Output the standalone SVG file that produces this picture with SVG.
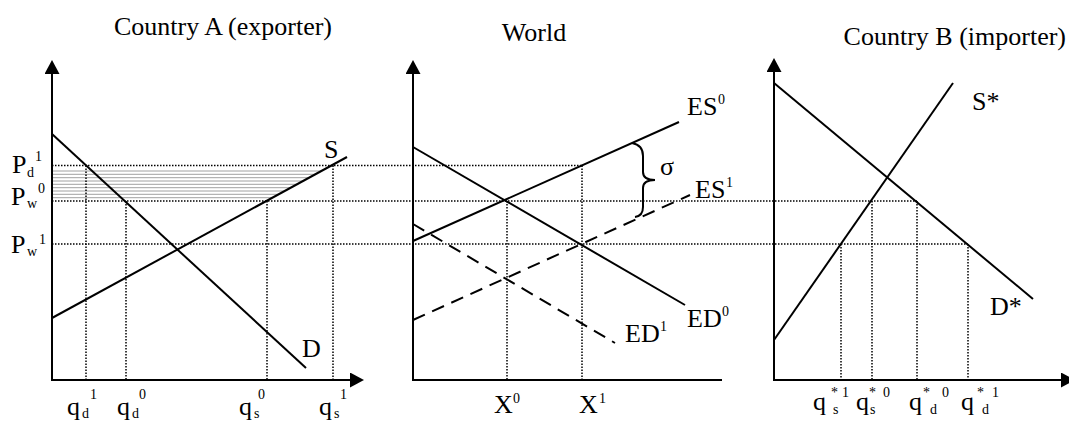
<svg xmlns="http://www.w3.org/2000/svg" width="1069" height="422" viewBox="0 0 1069 422">
<style>
text{font-family:"Liberation Serif","Times New Roman",serif;fill:#000}
.h{font-size:26px}
.t{font-size:26px}
.s{font-size:14px}
.ax{stroke:#000;stroke-width:2;fill:none}
.ln{stroke:#000;stroke-width:2;fill:none}
.da{stroke:#000;stroke-width:2;fill:none;stroke-dasharray:13 8}
.dt{stroke:#000;stroke-width:1.5;fill:none;stroke-dasharray:1.5 1.5}
.hs{stroke:#a0a0a0;stroke-width:1;fill:none}
</style>
<defs>
<marker id="arr" viewBox="0 0 14 15" refX="0" refY="7.5" markerWidth="14" markerHeight="15" orient="auto" markerUnits="userSpaceOnUse"><path d="M0,0 L14,7.5 L0,15 Z" fill="#000"/></marker>
</defs>
<rect width="1069" height="422" fill="#fff"/>

<g id="titles">
<text class="h" x="223" y="35" text-anchor="middle">Country A (exporter)</text>
<text class="h" x="534" y="41" text-anchor="middle">World</text>
<text class="h" x="1066" y="45" text-anchor="end">Country B (importer)</text>
</g>

<g id="guides">
<line class="hs" x1="52" y1="171" x2="321" y2="171"/>
<line class="hs" x1="52" y1="174.3" x2="315" y2="174.3"/>
<line class="hs" x1="52" y1="177.7" x2="309" y2="177.7"/>
<line class="hs" x1="52" y1="181" x2="303" y2="181"/>
<line class="hs" x1="52" y1="184.3" x2="297" y2="184.3"/>
<line class="hs" x1="52" y1="187.7" x2="291" y2="187.7"/>
<line class="hs" x1="52" y1="191" x2="285" y2="191"/>
<line class="hs" x1="52" y1="194.3" x2="279" y2="194.3"/>
<line class="hs" x1="52" y1="197.7" x2="272" y2="197.7"/>
<line class="dt" x1="52" y1="165.5" x2="582" y2="165.5"/>
<line class="dt" x1="52" y1="201" x2="917" y2="201"/>
<line class="dt" x1="52" y1="244" x2="968" y2="244"/>
<line class="dt" x1="86" y1="165.5" x2="86" y2="380"/>
<line class="dt" x1="126" y1="201" x2="126" y2="380"/>
<line class="dt" x1="267" y1="201" x2="267" y2="380"/>
<line class="dt" x1="333" y1="165.5" x2="333" y2="380"/>
<line class="dt" x1="507" y1="201" x2="507" y2="380"/>
<line class="dt" x1="582" y1="165.5" x2="582" y2="380"/>
<line class="dt" x1="841" y1="244" x2="841" y2="380"/>
<line class="dt" x1="872" y1="201" x2="872" y2="380"/>
<line class="dt" x1="917" y1="201" x2="917" y2="380"/>
<line class="dt" x1="968" y1="244" x2="968" y2="380"/>
</g>

<g id="countryA">
<line class="ax" x1="52" y1="380" x2="52" y2="74" marker-end="url(#arr)"/>
<line class="ax" x1="51" y1="380" x2="350" y2="380" marker-end="url(#arr)"/>
<line class="ln" x1="52" y1="134" x2="306" y2="368"/>
<line class="ln" x1="52" y1="318" x2="347" y2="157"/>
<text class="t" x="324" y="158">S</text>
<text class="t" x="302" y="357">D</text>
<text><tspan class="t" x="12" y="173">P</tspan><tspan class="s" x="27" y="177">d</tspan><tspan class="s" x="35" y="161">1</tspan></text>
<text><tspan class="t" x="11" y="205">P</tspan><tspan class="s" x="27" y="208">w</tspan><tspan class="s" x="38" y="193">0</tspan></text>
<text><tspan class="t" x="11" y="253">P</tspan><tspan class="s" x="27" y="256">w</tspan><tspan class="s" x="39" y="244">1</tspan></text>
<text><tspan class="t" x="67" y="415">q</tspan><tspan class="s" x="82" y="418">d</tspan><tspan class="s" x="90" y="399">1</tspan></text>
<text><tspan class="t" x="117" y="415">q</tspan><tspan class="s" x="132" y="418">d</tspan><tspan class="s" x="139" y="399">0</tspan></text>
<text><tspan class="t" x="239" y="415">q</tspan><tspan class="s" x="254" y="418">s</tspan><tspan class="s" x="258" y="399">0</tspan></text>
<text><tspan class="t" x="319" y="415">q</tspan><tspan class="s" x="334" y="418">s</tspan><tspan class="s" x="340" y="399">1</tspan></text>
</g>

<g id="world">
<line class="ax" x1="413" y1="380" x2="413" y2="74" marker-end="url(#arr)"/>
<line class="ax" x1="412" y1="380" x2="722" y2="380"/>
<line class="ln" x1="413" y1="147" x2="685" y2="305"/>
<line class="ln" x1="413" y1="241" x2="679" y2="122"/>
<line class="da" x1="413" y1="320" x2="690" y2="195"/>
<line class="da" x1="413" y1="224" x2="615" y2="343"/>
<path class="ln" d="M632,143 Q643,145 643,156 L643,172 Q643,180 655,180 Q643,180 643,188 L643,207 Q643,216 635,217"/>
<text class="t" x="660" y="175">σ</text>
<text><tspan class="t" x="687" y="115">ES</tspan><tspan class="s" x="718" y="104">0</tspan></text>
<text><tspan class="t" x="695" y="198">ES</tspan><tspan class="s" x="726" y="187">1</tspan></text>
<text><tspan class="t" x="687" y="327">ED</tspan><tspan class="s" x="722" y="316">0</tspan></text>
<text><tspan class="t" x="625" y="342">ED</tspan><tspan class="s" x="660" y="331">1</tspan></text>
<text><tspan class="t" x="494" y="413">X</tspan><tspan class="s" x="513" y="403">0</tspan></text>
<text><tspan class="t" x="579" y="413">X</tspan><tspan class="s" x="599" y="403">1</tspan></text>
</g>

<g id="countryB">
<line class="ax" x1="774" y1="380" x2="774" y2="72" marker-end="url(#arr)"/>
<line class="ax" x1="773" y1="380" x2="1061" y2="380" marker-end="url(#arr)"/>
<line class="ln" x1="774" y1="83" x2="1033" y2="299"/>
<line class="ln" x1="774" y1="340" x2="953" y2="83"/>
<text class="t" x="972" y="110">S*</text>
<text class="t" x="990" y="315">D*</text>
<text><tspan class="t" x="813" y="410">q</tspan><tspan class="s" x="831" y="397">*</tspan><tspan class="s" x="833" y="414">s</tspan><tspan class="s" x="842" y="397">1</tspan></text>
<text><tspan class="t" x="856" y="410">q</tspan><tspan class="s" x="869" y="397">*</tspan><tspan class="s" x="870" y="414">s</tspan><tspan class="s" x="883" y="397">0</tspan></text>
<text><tspan class="t" x="909" y="410">q</tspan><tspan class="s" x="923" y="397">*</tspan><tspan class="s" x="930" y="414">d</tspan><tspan class="s" x="942" y="397">0</tspan></text>
<text><tspan class="t" x="961" y="410">q</tspan><tspan class="s" x="977" y="397">*</tspan><tspan class="s" x="982" y="414">d</tspan><tspan class="s" x="992" y="397">1</tspan></text>
</g>
</svg>
